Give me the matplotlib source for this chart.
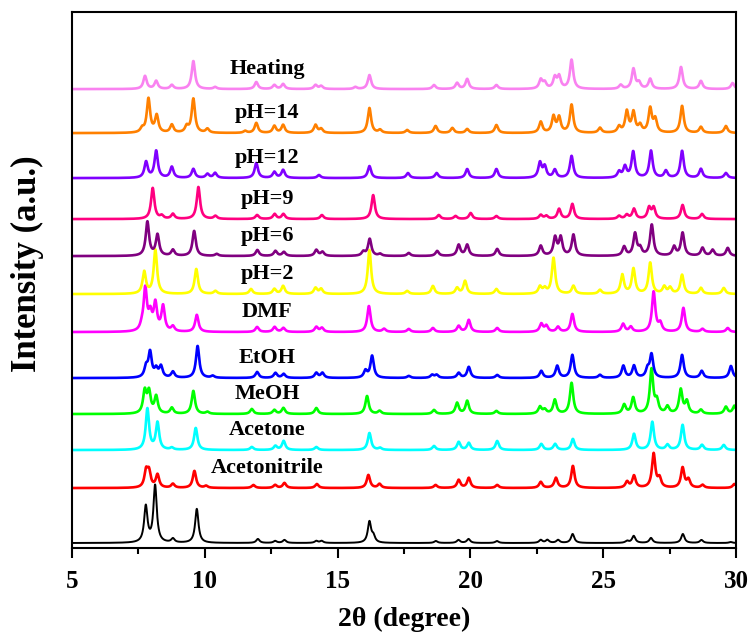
import numpy as np
import matplotlib.pyplot as plt

# Muestras (de abajo hacia arriba)
labels = ['', 'Acetonitrile', 'Acetone', 'MeOH', 'EtOH', 'DMF',
          'pH=2', 'pH=6', 'pH=9', 'pH=12', 'pH=14', 'Heating']
colors = ['#000000', '#FF0000', '#00FFFF', '#00FF00', '#0000FF', '#FF00FF',
          '#FFFF00', '#800080', '#FF0080', '#8000FF', '#FF8000', '#F982F0']

# Posiciones de picos (2theta) e intensidades
sim_pos = [7.78, 8.13, 8.8, 9.70, 12.0, 12.65, 13.0, 14.2, 14.4, 16.2, 16.35,
           18.7, 19.55, 19.93, 21.0, 22.65, 22.9, 23.3, 23.85, 25.9, 26.15,
           26.8, 28.0, 28.7, 29.8]
sim_int = [36, 57, 4, 34, 4, 2, 3, 2, 2, 21, 6,
           2, 3, 4, 2, 3, 3, 3, 9, 2, 7,
           5, 9, 3, 1]

acn_pos = [7.79, 7.90, 8.22, 8.8, 9.61, 10.05, 11.83, 12.65, 13.0, 14.22, 16.16,
           16.58, 18.69, 19.56, 19.94, 21.01, 22.65, 23.22, 23.86, 25.9, 26.16,
           26.9, 27.12, 27.99, 28.21, 28.74, 29.94]
acn_int = [16, 15, 13, 4, 17, 2, 3, 3, 5, 4, 13,
           4, 3, 8, 10, 3, 6, 10, 22, 6, 12,
           34, 9, 20, 8, 3, 4]

acetone_pos = [7.84, 8.22, 8.76, 9.66, 11.77, 12.66, 12.97, 14.2, 16.2, 16.6,
               18.63, 19.56, 19.94, 21.01, 22.67, 23.19, 23.86, 26.16, 26.85,
               27.42, 27.99, 28.72, 29.54]
acetone_int = [41, 27, 2, 22, 3, 4, 9, 3, 17, 2,
               4, 8, 7, 9, 6, 6, 11, 16, 28,
               5, 25, 5, 5]

meoh_pos = [7.74, 7.90, 8.17, 8.76, 9.57, 10.1, 11.77, 12.62, 12.96, 14.2,
            16.11, 16.58, 18.63, 19.5, 19.88, 20.98, 22.62, 22.8, 23.18, 23.81,
            25.79, 26.13, 26.82, 27.02, 27.42, 27.92, 28.15, 28.68, 29.62, 29.94]
meoh_int = [22, 21, 17, 6, 23, 2, 5, 4, 6, 6,
            18, 3, 4, 11, 13, 3, 7, 4, 14, 31,
            9, 16, 44, 12, 7, 24, 12, 4, 7, 8]

etoh_pos = [7.79, 7.94, 8.17, 8.35, 8.8, 9.73, 10.3, 11.97, 12.66, 12.97, 14.2,
            14.43, 16.05, 16.3, 17.68, 18.56, 18.73, 19.56, 19.94, 21.01, 22.67,
            23.27, 23.84, 24.88, 25.76, 26.16, 26.67, 26.82, 27.97, 28.71, 29.81]
etoh_int = [10, 25, 8, 11, 6, 32, 2, 6, 5, 4, 5,
            5, 7, 22, 2, 3, 3, 5, 11, 3, 7,
            12, 23, 3, 12, 12, 8, 23, 23, 7, 12]

dmf_pos = [7.63, 7.76, 7.95, 8.14, 8.43, 8.8, 9.70, 11.97, 12.63, 12.96, 14.2,
           14.41, 16.18, 16.75, 17.68, 18.59, 19.56, 19.94, 21.01, 22.67, 22.86,
           23.3, 23.84, 25.75, 26.04, 26.9, 27.15, 28.02, 28.74, 29.69]
dmf_int = [4, 42, 16, 27, 25, 5, 17, 5, 5, 4, 5,
           4, 26, 3, 3, 4, 6, 12, 4, 8, 6,
           5, 18, 8, 5, 40, 8, 24, 3, 4]

ph2_pos = [7.72, 8.14, 9.68, 10.4, 11.74, 12.62, 12.95, 14.17, 14.38, 16.2,
           17.62, 18.59, 19.5, 19.8, 20.98, 22.62, 22.8, 23.13, 23.88, 24.88,
           25.72, 26.14, 26.77, 27.3, 27.52, 27.97, 28.68, 29.54]
ph2_int = [22, 44, 25, 3, 5, 5, 8, 6, 5, 44,
           3, 8, 6, 13, 5, 7, 5, 36, 8, 4,
           19, 25, 31, 7, 6, 19, 6, 6]

ph6_pos = [7.84, 8.22, 8.8, 9.6, 10.45, 11.98, 12.66, 12.98, 14.2, 14.43, 15.97,
           16.21, 16.6, 17.68, 18.75, 19.56, 19.88, 21.01, 22.65, 23.19, 23.4,
           23.88, 25.79, 26.2, 26.39, 26.83, 27.67, 27.99, 28.74, 29.12, 29.69]
ph6_int = [34, 21, 6, 25, 2, 6, 5, 4, 6, 4, 4,
           17, 2, 3, 5, 11, 11, 7, 10, 18, 18,
           21, 9, 22, 7, 31, 9, 23, 8, 6, 8]

ph9_pos = [8.04, 8.38, 8.8, 9.76, 10.4, 11.97, 12.63, 12.96, 14.41, 16.34,
           18.81, 19.44, 20.01, 20.98, 22.65, 22.86, 23.34, 23.84, 25.6, 25.89,
           26.16, 26.73, 26.9, 27.99, 28.72]
ph9_int = [31, 3, 5, 32, 3, 4, 5, 5, 4, 24,
           4, 3, 6, 3, 4, 3, 10, 15, 3, 4,
           10, 11, 11, 14, 5]

ph12_pos = [7.79, 8.17, 8.76, 9.57, 10.1, 10.39, 11.94, 12.62, 12.95, 14.3,
            16.2, 17.65, 18.73, 19.88, 20.98, 22.62, 22.8, 23.18, 23.81, 25.6,
            25.82, 26.13, 26.8, 27.36, 27.97, 28.68, 29.62]
ph12_int = [16, 27, 11, 9, 4, 5, 15, 6, 8, 3,
            12, 5, 5, 9, 9, 15, 11, 8, 22, 6,
            11, 26, 27, 7, 27, 9, 5]

ph14_pos = [7.64, 7.88, 8.19, 8.76, 9.32, 9.57, 10.1, 11.52, 11.94, 12.62, 12.95,
            14.17, 14.38, 16.2, 16.6, 17.62, 18.69, 19.32, 19.88, 20.98, 22.65,
            23.13, 23.34, 23.81, 24.88, 25.6, 25.89, 26.14, 26.39, 26.77, 26.96,
            27.97, 28.68, 29.62]
ph14_int = [4, 34, 17, 8, 6, 34, 4, 2, 10, 7, 8,
            8, 4, 25, 3, 3, 7, 5, 4, 8, 11,
            16, 15, 28, 5, 6, 21, 20, 7, 24, 13,
            27, 6, 7]

heat_pos = [7.75, 8.17, 8.76, 9.57, 10.39, 11.94, 12.62, 12.95, 14.17, 14.38,
            15.67, 16.2, 18.63, 19.5, 19.88, 20.98, 22.65, 22.8, 23.18, 23.34,
            23.81, 25.66, 26.14, 26.35, 26.77, 27.93, 28.68, 29.87]
heat_int = [13, 8, 4, 28, 2, 7, 4, 5, 4, 3,
            2, 14, 4, 6, 10, 4, 9, 6, 11, 12,
            29, 4, 20, 6, 10, 22, 8, 6]

peak_pos = [sim_pos, acn_pos, acetone_pos, meoh_pos, etoh_pos, dmf_pos,
            ph2_pos, ph6_pos, ph9_pos, ph12_pos, ph14_pos, heat_pos]
peak_int = [sim_int, acn_int, acetone_int, meoh_int, etoh_int, dmf_int,
            ph2_int, ph6_int, ph9_int, ph12_int, ph14_int, heat_int]

# Desplazamiento vertical de cada patron
offsets = [0, 55, 93, 129, 165, 211, 249, 287, 324, 365, 410, 454]

plt.rcParams['font.family'] = ['Liberation Serif', 'DejaVu Serif']
plt.rcParams['font.weight'] = 'bold'

fig = plt.figure(figsize=(7.52, 6.38), dpi=100)
ax = fig.add_axes([0.0957, 0.141, 0.883, 0.840])

x = np.linspace(5, 30, 3001)
w = 0.075  # semiancho del pico
for i in range(len(labels)):
    y = np.zeros_like(x)
    for p, h in zip(peak_pos[i], peak_int[i]):
        y += h * w**2 / ((x - p)**2 + w**2)
    lw = 1.4 if i == 0 else 1.9
    ax.plot(x, y + offsets[i], color=colors[i], lw=lw)
    if labels[i]:
        ax.text(12.35, offsets[i] + 20, labels[i], ha='center', va='center',
                fontsize=16, fontweight='bold')

ax.set_xlim(5, 30)
ax.set_ylim(-5, 531)
ax.set_xticks([5, 10, 15, 20, 25, 30])
ax.set_xticks([7.5, 12.5, 17.5, 22.5, 27.5], minor=True)
ax.set_yticks([])
ax.tick_params(axis='x', which='major', direction='out', length=7, width=1.5,
               labelsize=18, pad=9)
ax.tick_params(axis='x', which='minor', direction='out', length=4, width=1.5)
for s in ax.spines.values():
    s.set_linewidth(1.5)

ax.set_xlabel('2θ (degree)', fontsize=20, fontweight='bold', labelpad=10)
ax.set_ylabel('Intensity (a.u.)', fontsize=25, fontweight='bold')
ax.yaxis.set_label_coords(-0.042, 0.53)

plt.savefig('out.png', dpi=100)
